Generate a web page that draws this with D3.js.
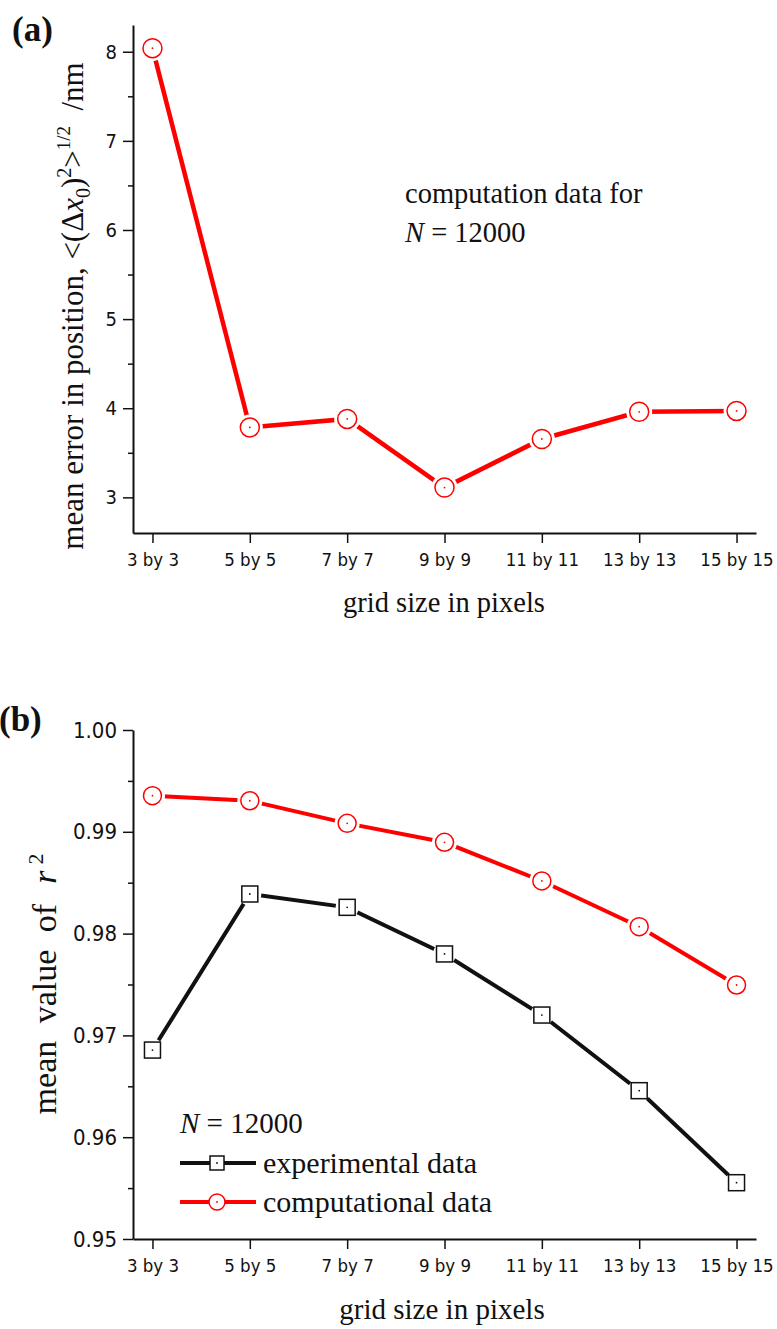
<!DOCTYPE html>
<html>
<head>
<meta charset="utf-8">
<script src="https://cdn.jsdelivr.net/npm/d3@7"></script>
<style>
  body { margin: 0; background: #fff; }
  svg { display: block; }
  .serif { font-family: 'Liberation Serif', 'Times New Roman', serif; fill: #111; }
  .tick text { font-family: 'DejaVu Sans Condensed', 'Liberation Sans Narrow', sans-serif; fill: #111; }
</style>
</head>
<body>
<svg id="chart"></svg>
<script>
// grid sizes on the x axis (shared by both panels)
const categories = ['3 by 3', '5 by 5', '7 by 7', '9 by 9', '11 by 11', '13 by 13', '15 by 15'];

// panel (a): mean error in position (nm), computation data
const errorComputed = [8.04, 3.785, 3.88, 3.11, 3.655, 3.96, 3.97];
const errorTicks = [3, 4, 5, 6, 7, 8];
const errorMinorTicks = [3.5, 4.5, 5.5, 6.5, 7.5];

// panel (b): mean value of r^2
const r2Experimental = [0.96856, 0.98389, 0.98258, 0.9780, 0.9720, 0.96457, 0.95553];
const r2Computational = [0.99355, 0.99305, 0.99083, 0.98897, 0.98517, 0.98068, 0.97495];
const r2Ticks = [0.95, 0.96, 0.97, 0.98, 0.99, 1.00];
const r2MinorTicks = [0.955, 0.965, 0.975, 0.985, 0.995];

const RED = '#ff0000';
const BLACK = '#111';

const svg = d3.select('#chart')
  .attr('width', 777)
  .attr('height', 1329);

const x = d3.scalePoint()
  .domain(categories)
  .range([133, 756])
  .padding(0.2);

function drawAxes(y, ticks, minor, fmt, yFont, axisY) {
  const g = svg.append('g');

  const ya = g.append('g')
    .attr('transform', 'translate(133,0)')
    .call(d3.axisLeft(y).tickValues(ticks).tickSize(10).tickPadding(6).tickSizeOuter(0).tickFormat(fmt));
  ya.selectAll('.tick text').style('font-size', yFont + 'px');

  g.append('g')
    .attr('transform', 'translate(133,0)')
    .call(d3.axisLeft(y).tickValues(minor).tickSize(5).tickFormat(''))
    .call(s => s.select('.domain').remove());

  const xa = g.append('g')
    .attr('transform', `translate(0,${axisY})`)
    .call(d3.axisBottom(x).tickSize(10).tickPadding(10).tickSizeOuter(0));
  xa.selectAll('.tick text').style('font-size', '18.5px');

  g.selectAll('.domain').attr('stroke', BLACK).attr('stroke-width', 2);
  g.selectAll('.tick line').attr('stroke', BLACK).attr('stroke-width', 1.5);
}

function drawSeries(y, values, color, shape, size, width) {
  const line = d3.line()
    .x((d, i) => x(categories[i]))
    .y(d => y(d));

  svg.append('path')
    .datum(values)
    .attr('fill', 'none')
    .attr('stroke', color)
    .attr('stroke-width', width)
    .attr('d', line);

  const pts = svg.append('g')
    .selectAll('g')
    .data(values)
    .enter()
    .append('g')
    .attr('transform', (d, i) => `translate(${x(categories[i])},${y(d)})`);

  // white halo so the line stops short of the marker
  pts.append('circle')
    .attr('r', size + 3.5)
    .attr('fill', '#fff');

  marker(pts, color, shape, size);
}

function marker(sel, color, shape, size) {
  if (shape === 'circle') {
    sel.append('circle')
      .attr('r', size)
      .attr('fill', '#fff')
      .attr('stroke', color)
      .attr('stroke-width', 1.5);
  } else {
    sel.append('rect')
      .attr('x', -size)
      .attr('y', -size)
      .attr('width', size * 2)
      .attr('height', size * 2)
      .attr('fill', '#fff')
      .attr('stroke', color)
      .attr('stroke-width', 1.5);
  }
  sel.append('circle')
    .attr('r', 0.9)
    .attr('fill', color);
}

// ---------- panel (a) ----------
const yA = d3.scaleLinear().domain([2.6, 8.3]).range([533, 25]);
drawAxes(yA, errorTicks, errorMinorTicks, d3.format('d'), 20, 533);
drawSeries(yA, errorComputed, RED, 'circle', 9.5, 4.5);

svg.append('text')
  .attr('class', 'serif')
  .attr('x', 12).attr('y', 41)
  .style('font-size', '35px').style('font-weight', 'bold')
  .text('(a)');

const titleA = svg.append('text')
  .attr('class', 'serif')
  .attr('transform', 'translate(83,306) rotate(-90)')
  .attr('text-anchor', 'middle')
  .style('font-size', '31px');
titleA.append('tspan').text('mean error in position, <(\u0394');
titleA.append('tspan').style('font-style', 'italic').text('x');
titleA.append('tspan').attr('dy', 7).style('font-size', '20px').text('0');
titleA.append('tspan').attr('dy', -7).text(')');
titleA.append('tspan').attr('dy', -12).style('font-size', '20px').text('2');
titleA.append('tspan').attr('dy', 12).text('>');
titleA.append('tspan').attr('dy', -13).style('font-size', '19px').text('1/2');
titleA.append('tspan').attr('dy', 13).text('\u2002/nm');

svg.append('text')
  .attr('class', 'serif')
  .attr('x', 444).attr('y', 612)
  .attr('text-anchor', 'middle')
  .style('font-size', '28.5px')
  .text('grid size in pixels');

svg.append('text')
  .attr('class', 'serif')
  .attr('x', 405).attr('y', 203)
  .style('font-size', '28.5px')
  .text('computation data for');

const noteN = svg.append('text')
  .attr('class', 'serif')
  .attr('x', 405).attr('y', 242)
  .style('font-size', '28.5px');
noteN.append('tspan').style('font-style', 'italic').text('N');
noteN.append('tspan').text(' = 12000');

// ---------- panel (b) ----------
const yB = d3.scaleLinear().domain([0.95, 1.00]).range([1239, 730]);
drawAxes(yB, r2Ticks, r2MinorTicks, d3.format('.2f'), 22, 1239);
drawSeries(yB, r2Computational, RED, 'circle', 9, 4);
drawSeries(yB, r2Experimental, BLACK, 'square', 8, 4);

svg.append('text')
  .attr('class', 'serif')
  .attr('x', -1).attr('y', 731)
  .style('font-size', '35px').style('font-weight', 'bold')
  .text('(b)');

const titleB = svg.append('text')
  .attr('class', 'serif')
  .attr('transform', 'translate(56,984) rotate(-90)')
  .attr('text-anchor', 'middle')
  .style('font-size', '34px')
  .style('word-spacing', '9px');
titleB.append('tspan').text('mean value of');
titleB.append('tspan').attr('dx', 20).style('font-style', 'italic').text('r');
titleB.append('tspan').attr('dx', 6).attr('dy', -13).style('font-size', '22px').text('2');

svg.append('text')
  .attr('class', 'serif')
  .attr('x', 442).attr('y', 1319)
  .attr('text-anchor', 'middle')
  .style('font-size', '29px')
  .text('grid size in pixels');

// legend
const legN = svg.append('text')
  .attr('class', 'serif')
  .attr('x', 180).attr('y', 1133)
  .style('font-size', '29px');
legN.append('tspan').style('font-style', 'italic').text('N');
legN.append('tspan').text(' = 12000');

const legendItems = [
  { label: 'experimental data', color: BLACK, shape: 'square', size: 7, y: 1163 },
  { label: 'computational data', color: RED, shape: 'circle', size: 8, y: 1202 }
];

legendItems.forEach(it => {
  svg.append('line')
    .attr('x1', 180).attr('x2', 256)
    .attr('y1', it.y).attr('y2', it.y)
    .attr('stroke', it.color)
    .attr('stroke-width', 4);
  const m = svg.append('g').attr('transform', `translate(217,${it.y})`);
  marker(m, it.color, it.shape, it.size);
  svg.append('text')
    .attr('class', 'serif')
    .attr('x', 263).attr('y', it.y + 10)
    .style('font-size', '30px')
    .text(it.label);
});
</script>
</body>
</html>
